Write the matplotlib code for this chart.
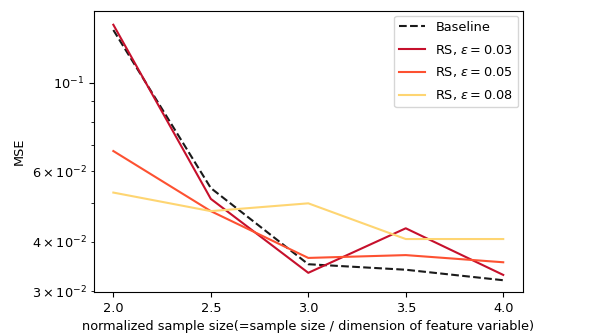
import numpy as np
import matplotlib
matplotlib.use('Agg')
import matplotlib.pyplot as plt

sizes = [2.0, 2.5, 3.0, 3.5, 4.0]
baseline = [0.1358, 0.0545, 0.0351, 0.0340, 0.0320]
rs_003 = [0.1400, 0.0512, 0.0334, 0.0432, 0.0330]
rs_005 = [0.0675, 0.0477, 0.0364, 0.0370, 0.0355]
rs_008 = [0.0531, 0.0477, 0.0499, 0.0406, 0.0406]

plt.rcParams['font.size'] = 9.3

fig = plt.figure(figsize=(5.94, 3.36), dpi=100)
ax = fig.add_axes([0.158, 0.131, 0.722, 0.836])

ax.plot(sizes, baseline, '--', color='#1a1a1a', label='Baseline')
ax.plot(sizes, rs_003, color='#c6102c', label=r'RS, $\epsilon=0.03$')
ax.plot(sizes, rs_005, color='#fd5131', label=r'RS, $\epsilon=0.05$')
ax.plot(sizes, rs_008, color='#fed572', label=r'RS, $\epsilon=0.08$')

ax.set_yscale('log')
ax.set_ylim(0.0299, 0.1515)
ax.set_xticks(sizes)
ax.set_xlabel('normalized sample size(=sample size / dimension of feature variable)')
ax.set_ylabel('MSE')
ax.legend(loc='upper right', labelspacing=0.68, borderaxespad=0.35)

fig.savefig('out.png', dpi=100)
